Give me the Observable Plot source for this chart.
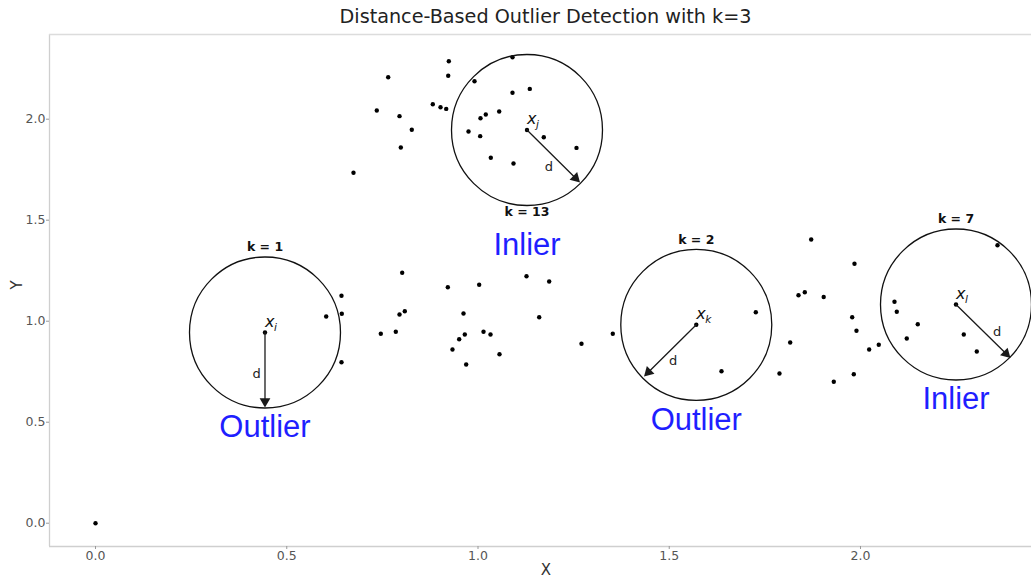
<!DOCTYPE html>
<html>
<head>
<meta charset="utf-8">
<script src="https://cdn.jsdelivr.net/npm/d3@7"></script>
<script src="https://cdn.jsdelivr.net/npm/@observablehq/plot@0.6"></script>
<style>
  body { margin: 0; background: #fff; font-family: "DejaVu Sans", sans-serif; }
  #wrap { position: relative; width: 1031px; height: 578px; overflow: hidden; background: #fff; }
  #title { position: absolute; left: 50px; top: 0; width: 991px; height: 33px; line-height: 33px;
           text-align: center; font-size: 19.2px; color: #222; font-family: "DejaVu Sans", sans-serif; }
  #chart { position: absolute; left: 0; top: 32px; }
</style>
</head>
<body>
<div id="wrap">
  <div id="title">Distance-Based Outlier Detection with k=3</div>
  <div id="chart"></div>
</div>
<script>
// ---------- data ----------
const pointX = [0.000, 0.4431, 0.9237, 0.7652, 0.9221, 1.0902, 0.9909, 1.0902, 1.1354, 0.7354, 0.7948, 0.8818, 0.9020, 0.9169, 1.0065, 1.0204, 1.0554, 0.8269, 0.9752, 1.0057, 1.1281, 1.1720, 1.2575, 0.7982, 1.0335, 1.0928, 0.6745,
  0.8018, 0.6431, 0.6439, 0.6031, 0.6431, 0.7948, 0.8086, 0.7459, 0.7851, 0.9211, 1.0031, 1.1268, 1.1861, 0.9621, 0.9655, 0.9508, 1.0144, 1.0327, 0.9333, 1.0562, 0.9691, 1.1600, 1.2706, 1.3524,
  1.8711, 1.7263, 1.5707, 1.8379, 1.8544, 1.9038, 1.8162, 1.6366, 1.7882, 1.9843, 1.9783, 1.9895, 2.0227, 2.0478, 1.9825, 1.9302, 2.0889, 2.0949, 2.1498, 2.1210, 2.2497, 2.2701, 2.3041, 2.3582];
const pointY = [0.000, 0.9441, 2.287, 2.208, 2.215, 2.307, 2.188, 2.131, 2.150, 2.043, 2.015, 2.074, 2.059, 2.051, 2.005, 2.023, 2.038, 1.948, 1.939, 1.916, 1.9465, 1.911, 1.858, 1.860, 1.809, 1.781, 1.735,
  1.2396, 1.1262, 1.0366, 1.0233, 0.7970, 1.0332, 1.0495, 0.9376, 0.9475, 1.1683, 1.1802, 1.2228, 1.1965, 1.0381, 0.9342, 0.9109, 0.9475, 0.9342, 0.8599, 0.8366, 0.7856, 1.0198, 0.8881, 0.9381,
  1.4045, 1.0446, 0.9822, 1.1287, 1.1436, 1.1198, 0.8946, 0.7525, 0.7411, 1.2842, 1.0198, 0.9525, 0.8599, 0.8832, 0.7376, 0.7000, 1.0960, 1.0465, 0.9851, 0.9144, 1.0827, 0.9342, 0.8500, 1.3762];

// highlighted points (circle centres) and their annotations
const centerName = ["i", "j", "k", "l"];
const centerX = [0.4431, 1.1281, 1.5707, 2.2497];
const centerY = [0.9441, 1.9465, 0.9822, 1.0827];
const kLabels = ["k = 1", "k = 13", "k = 2", "k = 7"];
const kLabelSide = ["above", "below", "above", "above"];
const status = ["Outlier", "Inlier", "Outlier", "Inlier"];
const tipX = [0.4431, 1.2667, 1.4340, 2.3922];
const tipY = [0.5728, 1.6866, 0.7262, 0.8178];
const dLabelX = [0.421, 1.185, 1.510, 2.357];
const dLabelY = [0.740, 1.762, 0.805, 0.946];

const xTicks = [0, 0.5, 1.0, 1.5, 2.0];
const yTicks = [0, 0.5, 1.0, 1.5, 2.0];
const xLabel = "X", yLabel = "Y";
const xMin = -0.1203, xMax = 2.4471;
const yMin = -0.1153, yMax = 2.4193;

// ---------- layout ----------
const W = 1031, H = 546;
const mL = 49, mR = 0, mT = 2, mB = 32;
const kx = (W - mL - mR) / (xMax - xMin);
const ky = (H - mT - mB) / (yMax - yMin);
const circleR = 75.5;
const headR = 4;
const arrowColor = "#1a1a1a";

const pts = pointX.map((_, i) => i);
const ctr = centerX.map((_, i) => i);

const heads = ctr.map(i => {
  const sx = (tipX[i] - centerX[i]) * kx, sy = -(tipY[i] - centerY[i]) * ky;
  const len = Math.hypot(sx, sy), ux = sx / len, uy = sy / len;
  const rot = Math.atan2(ux, -uy) * 180 / Math.PI;
  const back = 2 * headR * 0.7776;
  return Plot.dot([i], {x: j => tipX[j], y: j => tipY[j], symbol: "triangle", r: headR,
    fill: arrowColor, stroke: "none", rotate: rot, dx: -ux * back, dy: -uy * back});
});

const plot = Plot.plot({
  width: W, height: H,
  marginLeft: mL, marginRight: mR, marginTop: mT, marginBottom: mB,
  style: {background: "#fff", fontFamily: "DejaVu Sans, sans-serif", overflow: "visible"},
  x: {domain: [xMin, xMax]},
  y: {domain: [yMin, yMax]},
  marks: [
    // spines
    Plot.ruleX([xMin], {stroke: "#cfcfcf", strokeWidth: 1.3}),
    Plot.ruleY([yMin], {stroke: "#cfcfcf", strokeWidth: 1.3}),
    Plot.ruleY([yMax], {stroke: "#dcdcdc", strokeWidth: 1.3}),
    Plot.axisX({ticks: xTicks, tickFormat: d3.format(".1f"), tickSize: 3, tickPadding: 2,
      stroke: "#999", fill: "#555", fontSize: 12.5, label: null}),
    Plot.axisY({ticks: yTicks, tickFormat: d3.format(".1f"), tickSize: 3, tickPadding: 1,
      stroke: "#999", fill: "#555", fontSize: 12.5, label: null}),
    // axis titles
    Plot.text([xLabel], {frameAnchor: "bottom", text: d => d, dx: 5.5, dy: 28, fontSize: 15, fill: "#333"}),
    Plot.text([yLabel], {frameAnchor: "left", text: d => d, rotate: -90, dx: -32, dy: -1, fontSize: 15, fill: "#333"}),
    // data points
    Plot.dot(pts, {x: i => pointX[i], y: i => pointY[i], r: 2.2, fill: "#000", stroke: "none"}),
    // neighbourhood circles
    Plot.dot(ctr, {x: i => centerX[i], y: i => centerY[i], r: circleR, fill: "none",
      stroke: "#111", strokeWidth: 1.3}),
    // radius arrows
    Plot.arrow(ctr, {x1: i => centerX[i], y1: i => centerY[i], x2: i => tipX[i], y2: i => tipY[i],
      stroke: arrowColor, strokeWidth: 1.3, headLength: 0, insetEnd: 5}),
    ...heads,
    // d labels
    Plot.text(ctr, {x: i => dLabelX[i], y: i => dLabelY[i], text: () => "d", fontSize: 13, fill: "#222"}),
    // x_i labels
    Plot.text(ctr, {x: i => centerX[i], y: i => centerY[i], text: () => "x", textAnchor: "start",
      dx: 0, dy: -11, fontSize: 16, fontStyle: "italic", fill: "#111"}),
    Plot.text(ctr, {x: i => centerX[i], y: i => centerY[i], text: i => centerName[i], textAnchor: "start",
      dx: 9, dy: -5, fontSize: 10.5, fontStyle: "italic", fill: "#111"}),
    // k labels
    Plot.text(ctr.filter(i => kLabelSide[i] === "above"), {x: i => centerX[i], y: i => centerY[i],
      text: i => kLabels[i], dy: -85, fontSize: 12.5, fontWeight: "bold", fill: "#111"}),
    Plot.text(ctr.filter(i => kLabelSide[i] === "below"), {x: i => centerX[i], y: i => centerY[i],
      text: i => kLabels[i], dy: 82, fontSize: 12.5, fontWeight: "bold", fill: "#111"}),
    // status labels
    Plot.text(ctr.filter(i => kLabelSide[i] === "above"), {x: i => centerX[i], y: i => centerY[i],
      text: i => status[i], dy: 95, fontSize: 31, fill: "#1f1fff",
      fontFamily: "Liberation Sans, Arial, sans-serif"}),
    Plot.text(ctr.filter(i => kLabelSide[i] === "below"), {x: i => centerX[i], y: i => centerY[i],
      text: i => status[i], dy: 115, fontSize: 31, fill: "#1f1fff",
      fontFamily: "Liberation Sans, Arial, sans-serif"})
  ]
});
document.getElementById("chart").appendChild(plot);
</script>
</body>
</html>
